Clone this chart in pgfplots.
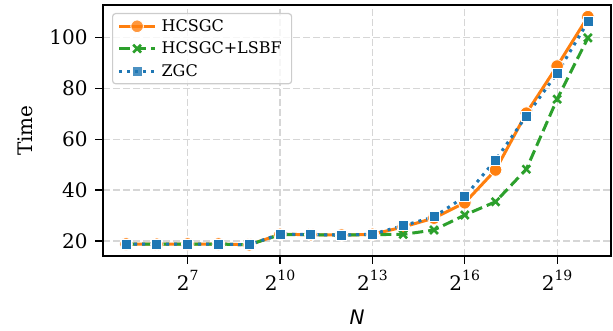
\documentclass[border=0pt]{standalone}
\usepackage{pgfplots}
\pgfplotsset{compat=1.18}
\usepackage{fontspec}
\setmainfont{DejaVu Serif}
\newfontfamily\dvsans{DejaVu Sans}
\definecolor{tabblue}{HTML}{1F77B4}
\definecolor{taborange}{HTML}{FF7F0E}
\definecolor{tabgreen}{HTML}{2CA02C}
\newcommand\pw[1]{2\raisebox{0.5em}{\fontsize{14}{14}\selectfont #1}}
\begin{document}
\begin{tikzpicture}
\begin{axis}[
  scale only axis, width=508pt, height=251pt,
  xmode=log, log basis x=2,
  xmin=19.03, xmax=1763487,
  ymin=14.1, ymax=112.7,
  xtick={128,1024,8192,65536,524288},
  xticklabels={\pw{7},\pw{10},\pw{13},\pw{16},\pw{19}},
  ytick={20,40,60,80,100},
  /pgf/number format/assume math mode=true,
  tick label style={font=\fontsize{20}{24}\selectfont},
  label style={font=\fontsize{20}{24}\selectfont},
  yticklabel style={xshift=-4pt},
  xticklabel style={yshift=-3pt},
  ylabel shift=10pt, xlabel shift=12pt,
  grid=major,
  grid style={dashed, dash pattern=on 7pt off 3pt, color=black!16, line width=1.2pt},
  axis line style={line width=1.5pt},
  tick style={black, line width=1.2pt},
  major tick length=8pt, tick align=outside, tick pos=left,
  xlabel={{\dvsans\itshape N}},
  ylabel={Time},
  legend cell align=left,
  legend style={at={(axis description cs:0,1)}, anchor=north west, xshift=9pt, yshift=-8pt,
    font=\fontsize{16}{20}\selectfont, draw=black!20, line width=1.2pt, rounded corners=3pt,
    fill=white, fill opacity=0.8, text opacity=1, inner xsep=5pt, inner ysep=4pt, row sep=5pt,
    nodes={inner xsep=5pt}},
  legend image code/.code={\draw[mark repeat=2,mark phase=2] plot coordinates {(0pt,0pt)(18pt,0pt)(36pt,0pt)};},
]
\addplot[color=taborange, line width=3pt, mark=*, mark size=6.3pt,
  mark options={solid, fill=taborange, draw=white, line width=0.8pt}] coordinates {
(32,18.8)(64,18.7)(128,18.8)(256,18.8)(512,18.5)(1024,22.6)(2048,22.5)(4096,22.3)(8192,22.6)
(16384,25.5)(32768,29.0)(65536,35.0)(131072,47.9)(262144,70.2)(524288,88.7)(1048576,108.1)};
\addlegendentry{HCSGC}
\addplot[color=tabgreen, line width=3pt, dash pattern=on 11pt off 5pt, mark=x, mark size=5.5pt,
  mark options={solid, line width=2.6pt}] coordinates {
(32,18.8)(64,18.7)(128,18.8)(256,18.8)(512,18.5)(1024,22.5)(2048,22.5)(4096,22.3)(8192,22.5)
(16384,22.6)(32768,24.3)(65536,30.2)(131072,35.4)(262144,48.2)(524288,75.7)(1048576,99.8)};
\addlegendentry{HCSGC+LSBF}
\addplot[color=tabblue, line width=3pt, dash pattern=on 3pt off 5pt, mark=square*, mark size=5pt,
  mark options={solid, fill=tabblue, draw=white, line width=0.8pt}] coordinates {
(32,18.8)(64,18.7)(128,18.8)(256,18.8)(512,18.5)(1024,22.75)(2048,22.5)(4096,22.3)(8192,22.7)
(16384,26.0)(32768,29.5)(65536,37.4)(131072,51.8)(262144,69.1)(524288,85.9)(1048576,106.1)};
\addlegendentry{ZGC}
\end{axis}
\path (current axis.south west) ++(-103pt,-75pt) rectangle ++(613pt,331pt);
\end{tikzpicture}
\end{document}
